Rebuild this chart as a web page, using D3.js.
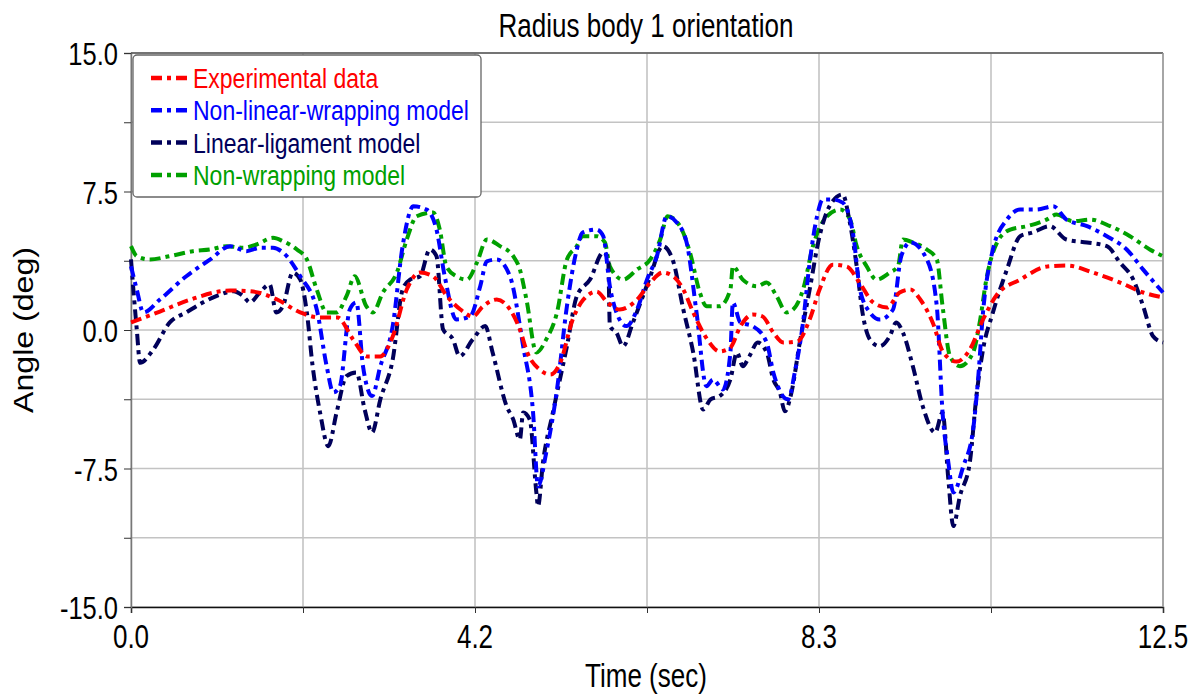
<!DOCTYPE html>
<html>
<head>
<meta charset="utf-8">
<script src="https://cdn.jsdelivr.net/npm/d3@7/dist/d3.min.js"></script>
<style>
  body { margin: 0; background: #fff; }
  text { font-family: "Liberation Sans", Arial, sans-serif; }
</style>
</head>
<body>
<div id="chart"></div>
<script>
// series: [time (sec), angle (deg)]
const experimental = [[0,0.41],[0.35,1.0],[0.72,1.65],[1.2,2.14],[1.48,2.08],[1.77,1.65],[2.05,0.95],[2.29,0.68],[2.5,0.68],[2.69,-0.51],[2.86,-1.43],[3.02,-1.43],[3.17,-0.35],[3.34,2.19],[3.5,3.11],[3.66,2.9],[3.83,1.81],[3.99,1.11],[4.14,0.73],[4.26,1.27],[4.43,1.65],[4.59,1.11],[4.71,0.03],[4.8,-1.22],[4.95,-2.14],[5.08,-2.41],[5.2,-1.76],[5.35,0.57],[5.48,1.65],[5.64,2.08],[5.77,1.49],[5.92,1.11],[6.13,1.65],[6.29,2.57],[6.44,3.11],[6.57,2.9],[6.69,2.19],[6.81,0.95],[6.98,-0.51],[7.13,-1.16],[7.26,-0.95],[7.38,0.19],[7.53,0.84],[7.65,0.73],[7.78,-0.14],[7.9,-0.68],[8.07,-0.62],[8.22,0.57],[8.34,2.19],[8.5,3.54],[8.67,3.44],[8.83,2.52],[8.99,1.49],[9.16,1.22],[9.31,2.03],[9.44,2.19],[9.56,1.65],[9.71,0.41],[9.84,-1.22],[10.0,-1.71],[10.16,-1.06],[10.32,0.57],[10.49,1.92],[10.77,2.73],[11.1,3.44],[11.34,3.49],[11.65,3.11],[11.98,2.57],[12.26,2.03],[12.5,1.76]];

const nonLinearWrapping = [[0,3.45],[0.07,2.19],[0.15,0.95],[0.35,1.65],[0.67,2.91],[0.96,3.82],[1.2,4.54],[1.4,4.27],[1.56,4.45],[1.72,4.45],[1.84,4.2],[2.05,2.91],[2.25,1.11],[2.37,-1.96],[2.45,-3.38],[2.53,-3.04],[2.65,1.11],[2.73,1.49],[2.81,-1.96],[2.92,-3.58],[3.02,-1.96],[3.17,0.21],[3.29,4.54],[3.42,6.7],[3.58,6.52],[3.7,5.44],[3.8,2.91],[3.94,0.57],[4.11,0.75],[4.23,2.37],[4.31,3.72],[4.43,3.82],[4.59,2.91],[4.75,-0.88],[4.87,-4.47],[4.93,-8.47],[5.03,-6.63],[5.16,-3.22],[5.28,1.29],[5.4,4.36],[5.47,5.28],[5.64,5.44],[5.72,5.08],[5.8,2.37],[5.88,0.95],[6.0,0.21],[6.13,1.11],[6.25,2.73],[6.37,4.0],[6.49,6.16],[6.61,5.82],[6.73,4.74],[6.85,0.95],[6.97,-3.04],[7.05,-2.68],[7.17,-3.22],[7.26,-1.22],[7.29,1.49],[7.38,0.41],[7.53,0.21],[7.7,-0.68],[7.78,-2.3],[7.96,-3.76],[8.04,-2.3],[8.14,0.41],[8.22,3.65],[8.31,6.16],[8.38,7.07],[8.5,7.07],[8.62,6.9],[8.75,5.08],[8.83,2.19],[8.95,0.95],[9.07,0.57],[9.23,1.11],[9.33,4.0],[9.44,4.74],[9.64,3.82],[9.76,1.29],[9.83,-4.47],[9.9,-7.17],[9.96,-8.8],[10.08,-7.39],[10.2,-5.39],[10.26,-2.68],[10.32,0.95],[10.44,4.36],[10.61,5.98],[10.77,6.52],[10.97,6.52],[11.17,6.7],[11.33,5.98],[11.58,5.62],[11.82,5.08],[12.06,4.36],[12.26,3.27],[12.5,2.03]];

const linearLigament = [[0,3.82],[0.07,0.03],[0.11,-1.78],[0.27,-1.06],[0.47,0.41],[0.67,0.95],[0.87,1.49],[1.08,1.92],[1.24,2.1],[1.36,1.83],[1.44,1.49],[1.56,2.03],[1.68,2.46],[1.76,0.95],[1.84,1.29],[1.96,3.11],[2.05,2.73],[2.13,0.95],[2.2,-1.96],[2.29,-4.47],[2.39,-6.29],[2.49,-4.47],[2.61,-2.5],[2.73,-2.3],[2.83,-4.3],[2.92,-5.55],[3.02,-3.76],[3.17,-1.6],[3.29,2.19],[3.38,2.73],[3.5,2.91],[3.62,4.36],[3.7,4.0],[3.78,0.03],[3.9,-0.51],[3.98,-1.42],[4.14,-0.51],[4.29,0.21],[4.38,-1.22],[4.55,-4.13],[4.63,-4.85],[4.71,-5.93],[4.75,-4.47],[4.83,-4.85],[4.91,-8.8],[4.93,-9.54],[4.99,-7.17],[5.11,-4.47],[5.28,-0.88],[5.4,1.83],[5.56,2.73],[5.72,4.2],[5.78,3.82],[5.8,0.21],[5.88,-0.14],[5.96,-0.88],[6.08,0.41],[6.2,1.83],[6.29,2.91],[6.44,4.54],[6.56,3.82],[6.69,1.11],[6.81,-1.22],[6.93,-4.3],[7.02,-3.76],[7.13,-3.58],[7.26,-2.68],[7.34,-1.22],[7.41,-1.96],[7.49,-1.42],[7.59,-0.68],[7.7,-1.22],[7.78,-2.68],[7.86,-3.38],[7.92,-4.4],[8.0,-3.38],[8.1,-0.68],[8.22,2.19],[8.34,5.08],[8.46,6.7],[8.62,7.34],[8.7,5.98],[8.79,3.45],[8.86,0.95],[8.95,-0.51],[9.07,-0.88],[9.19,-0.34],[9.27,0.41],[9.35,-0.14],[9.47,-1.96],[9.59,-4.13],[9.74,-5.55],[9.83,-4.47],[9.9,-8.09],[9.96,-10.62],[10.04,-9.0],[10.16,-7.17],[10.24,-3.58],[10.32,-1.06],[10.44,0.95],[10.61,3.28],[10.77,5.08],[10.92,5.28],[11.13,5.62],[11.33,4.9],[11.58,4.74],[11.82,4.54],[11.98,3.65],[12.14,2.73],[12.26,1.29],[12.38,-0.34],[12.5,-0.68]];

const nonWrapping = [[0,4.54],[0.07,4.0],[0.23,3.82],[0.47,4.0],[0.75,4.27],[0.96,4.36],[1.16,4.54],[1.36,4.45],[1.52,4.63],[1.72,4.99],[1.84,4.81],[2.01,4.36],[2.13,3.82],[2.25,2.19],[2.37,0.95],[2.49,0.95],[2.61,1.83],[2.71,2.91],[2.85,1.29],[2.93,0.95],[3.05,2.03],[3.22,3.11],[3.34,4.9],[3.46,6.16],[3.66,6.36],[3.74,5.44],[3.82,3.45],[3.94,2.91],[4.07,2.73],[4.19,3.65],[4.31,4.9],[4.47,4.54],[4.63,4.0],[4.71,3.28],[4.79,1.65],[4.91,-1.22],[5.03,-0.51],[5.16,0.95],[5.28,3.82],[5.4,4.54],[5.47,5.08],[5.64,5.08],[5.74,4.74],[5.8,3.45],[5.96,2.73],[6.13,3.28],[6.29,3.82],[6.41,4.9],[6.5,6.16],[6.65,5.62],[6.77,4.2],[6.89,2.03],[6.97,1.29],[7.13,1.29],[7.26,2.19],[7.29,3.45],[7.41,2.73],[7.58,2.37],[7.7,2.57],[7.82,1.83],[7.94,0.95],[8.02,1.11],[8.14,2.19],[8.26,4.54],[8.43,6.16],[8.59,6.52],[8.71,5.98],[8.79,4.54],[8.91,3.45],[9.03,2.73],[9.19,3.11],[9.29,3.45],[9.35,4.9],[9.47,4.74],[9.64,4.36],[9.76,3.82],[9.83,1.29],[9.92,-1.42],[10.04,-1.96],[10.2,-1.22],[10.28,0.41],[10.36,2.73],[10.49,4.74],[10.65,5.44],[10.85,5.62],[11.09,5.98],[11.21,6.25],[11.41,5.89],[11.62,5.98],[11.86,5.62],[12.1,5.08],[12.34,4.36],[12.5,4.0]];

const seriesNames = ["Experimental data", "Non-linear-wrapping model", "Linear-ligament model", "Non-wrapping model"];
const seriesColors = ["#ff0000", "#0000ff", "#00005a", "#00a000"];
const xTickLabels = ["0.0", "4.2", "8.3", "12.5"];
const yTickLabels = ["15.0", "7.5", "0.0", "-7.5", "-15.0"];

const margin = { top: 53, right: 37, bottom: 87, left: 131 },
  width = 1200 - margin.left - margin.right,
  height = 694 - margin.top - margin.bottom;

const svg = d3
  .select("#chart")
  .append("svg")
  .attr("width", 1200)
  .attr("height", 694)
  .append("g")
  .attr("transform", "translate(" + margin.left + "," + margin.top + ")");

const xScale = d3.scaleLinear().domain([0, 12.5]).range([0, width]);
const yScale = d3.scaleLinear().domain([-15, 15]).range([height, 0]);

const xGrid = d3.range(0, 7).map((i) => (i * 12.5) / 6);
const yGrid = d3.range(0, 9).map((i) => -15 + i * 3.75);

// the source picture is stretched vertically, so the text is too
function label(x, y, str, size, sy, anchor, color) {
  return svg
    .append("text")
    .attr("transform", `translate(${x},${y}) scale(1,${sy})`)
    .attr("text-anchor", anchor)
    .attr("font-size", size)
    .attr("fill", color || "#000")
    .text(str);
}

// grid
svg
  .append("g")
  .selectAll("line")
  .data(yGrid)
  .enter()
  .append("line")
  .attr("x1", 0)
  .attr("x2", width)
  .attr("y1", (d) => yScale(d))
  .attr("y2", (d) => yScale(d))
  .attr("stroke", "#c3c3c3")
  .attr("stroke-width", 1.6);
svg
  .append("g")
  .selectAll("line")
  .data(xGrid)
  .enter()
  .append("line")
  .attr("x1", (d) => xScale(d))
  .attr("x2", (d) => xScale(d))
  .attr("y1", 0)
  .attr("y2", height)
  .attr("stroke", "#c3c3c3")
  .attr("stroke-width", 1.6);

// axes (ticks only, labels drawn below)
const xAxis = svg
  .append("g")
  .attr("transform", "translate(0," + height + ")")
  .call(d3.axisBottom(xScale).tickValues(xGrid).tickSize(6).tickFormat(""));
const yAxis = svg
  .append("g")
  .call(d3.axisLeft(yScale).tickValues(yGrid).tickSize(7).tickFormat(""));
xAxis.select(".domain").attr("stroke", "#111").attr("stroke-width", 1.5);
yAxis.select(".domain").attr("stroke", "#777").attr("stroke-width", 1.5);
svg.selectAll(".tick line").attr("stroke", "#333");

svg
  .append("line")
  .attr("x1", 0)
  .attr("x2", width)
  .attr("y1", 0)
  .attr("y2", 0)
  .attr("stroke", "#555")
  .attr("stroke-width", 1.5);
svg
  .append("line")
  .attr("x1", width)
  .attr("x2", width)
  .attr("y1", 0)
  .attr("y2", height)
  .attr("stroke", "#999")
  .attr("stroke-width", 1.5);

xTickLabels.forEach((t, i) => {
  label(xScale((i * 12.5) / 3), height + 41, t, 26, 1.27, "middle");
});
yTickLabels.forEach((t, i) => {
  label(-13, yScale(15 - i * 7.5) + 12, t, 25.5, 1.25, "end");
});

label(width / 2 - 1, 37 - margin.top, "Radius body 1 orientation", 26, 1.28, "middle");
label(width / 2 - 1, 687 - margin.top, "Time (sec)", 26, 1.28, "middle");
svg
  .append("text")
  .attr("transform", `translate(${33 - margin.left},${yScale(0)}) scale(1,1.19) rotate(-90)`)
  .attr("text-anchor", "middle")
  .attr("font-size", 27)
  .text("Angle (deg)");

// lines
const line = d3
  .line()
  .x((d) => xScale(d[0]))
  .y((d) => yScale(d[1]))
  .curve(d3.curveMonotoneX);

const allSeries = [experimental, nonLinearWrapping, linearLigament, nonWrapping];
const drawOrder = [3, 2, 1, 0];
drawOrder.forEach((k) => {
  svg
    .append("path")
    .datum(allSeries[k])
    .attr("d", line)
    .attr("fill", "none")
    .attr("stroke", seriesColors[k])
    .attr("stroke-width", 4)
    .attr("stroke-dasharray", "11,5,4,5");
});

// legend
const legend = svg.append("g").attr("transform", "translate(2,2)");
legend
  .append("rect")
  .attr("width", 348)
  .attr("height", 142)
  .attr("rx", 4)
  .attr("fill", "#fff")
  .attr("stroke", "#666")
  .attr("stroke-width", 1.3);

seriesNames.forEach((name, i) => {
  const by = 33 + i * 32.3;
  legend
    .append("line")
    .attr("x1", 18)
    .attr("x2", 55)
    .attr("y1", by - 10)
    .attr("y2", by - 10)
    .attr("stroke", seriesColors[i])
    .attr("stroke-width", 4.5)
    .attr("stroke-dasharray", "11,5,4,5");
  legend
    .append("text")
    .attr("transform", `translate(60,${by}) scale(1,1.17)`)
    .attr("font-size", 23)
    .attr("fill", seriesColors[i])
    .text(name);
});
</script>
</body>
</html>
